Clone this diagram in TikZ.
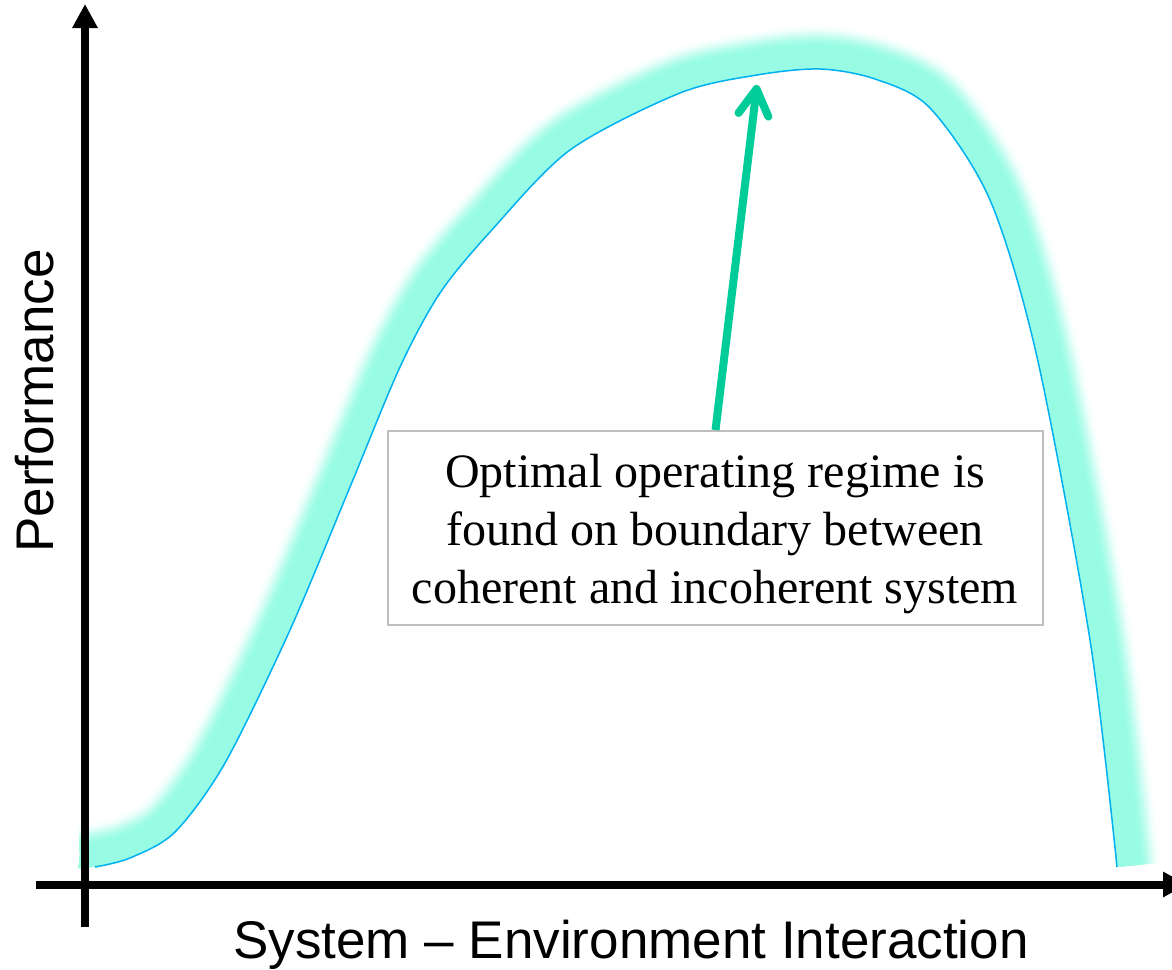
\documentclass[tikz,border=0pt]{standalone}
\usepackage{fontspec}
\setmainfont{Liberation Serif}
\newfontfamily\arialfont{Liberation Sans}
\usetikzlibrary{arrows.meta}
\definecolor{glowc}{RGB}{152,252,228}
\definecolor{curvec}{RGB}{0,176,240}
\definecolor{arrowc}{RGB}{0,204,153}
\definecolor{boxc}{RGB}{191,191,191}
\begin{document}
\begin{tikzpicture}[x=1pt,y=-1pt,
  axisline/.style={line width=8pt,-{Triangle[length=24pt,width=24pt]}},
  curveline/.style={draw=curvec,line width=1.5pt},
  textbox/.style={draw=boxc,line width=2pt,minimum width=655pt,minimum height=194pt,inner sep=0pt},
  boxtext/.style={font=\fontsize{48}{58}\selectfont,anchor=base,inner sep=0pt},
  axislabel/.style={font=\arialfont\fontsize{53}{60}\selectfont,anchor=base,inner sep=0pt},
  garrow/.style={draw=arrowc,line width=8pt,-{Straight Barb[round,length=26pt,width=30pt]}}]
\useasboundingbox (0,0) rectangle (1172,969);
% glow
\foreach \w/\p in {88/3,84/8,80/16,76/27,72/40,68/54,64/68,60/80,56/90,52/96,48/100}{
  \draw[draw=glowc!\p!white,line width=\w pt,line cap=butt,line join=round]
    plot[smooth] coordinates {(78,868.5) (88,868) (130,858) (175,832) (225,763) (290,630) (350,487) (400,367) (440,293) (490,232) (570,150) (680,93) (757,75) (820,69) (875,79) (930,108) (990,200) (1037,357) (1090,640) (1117,867)};
}
% remove inner half of glow
\fill[white] (0,969) -- (0,868.5) -- (78,868.5) --
    plot[smooth] coordinates {(88,868) (130,858) (175,832) (225,763) (290,630) (350,487) (400,367) (440,293) (490,232) (570,150) (680,93) (757,75) (820,69) (875,79) (930,108) (990,200) (1037,357) (1090,640) (1117,867)}
    -- (1117,868) -- (1172,868) -- (1172,969) -- cycle;
% curve
\draw[curveline] plot[smooth] coordinates {(95,867) (130,858) (175,832) (225,763) (290,630) (350,487) (400,367) (440,293) (490,232) (570,150) (680,93) (757,75) (820,69) (875,79) (930,108) (990,200) (1037,357) (1090,640) (1117,867)};
% axes
\coordinate (yb) at (85,927);
\coordinate (yt) at (85,4);
\coordinate (xl) at (36,884.5);
\coordinate (xr) at (1187,884.5);
\draw[axisline] (yb) -- (yt);
\draw[axisline] (xl) -- (xr);
\node[axislabel] (xlabel) at (631,958) {System – Environment Interaction};
\node[axislabel,rotate=90] (ylabel) at (53,401) {Performance};
% annotation
\node[textbox] (box) at (715.5,528) {};
\node[boxtext] (l1) at (715,487) {Optimal operating regime is};
\node[boxtext] (l2) at (715,545) {found on boundary between};
\node[boxtext] (l3) at (715,603) {coherent and incoherent system};
\coordinate (peak) at (757,85);
\draw[garrow] (box.north) -- (peak);
\end{tikzpicture}
\end{document}
